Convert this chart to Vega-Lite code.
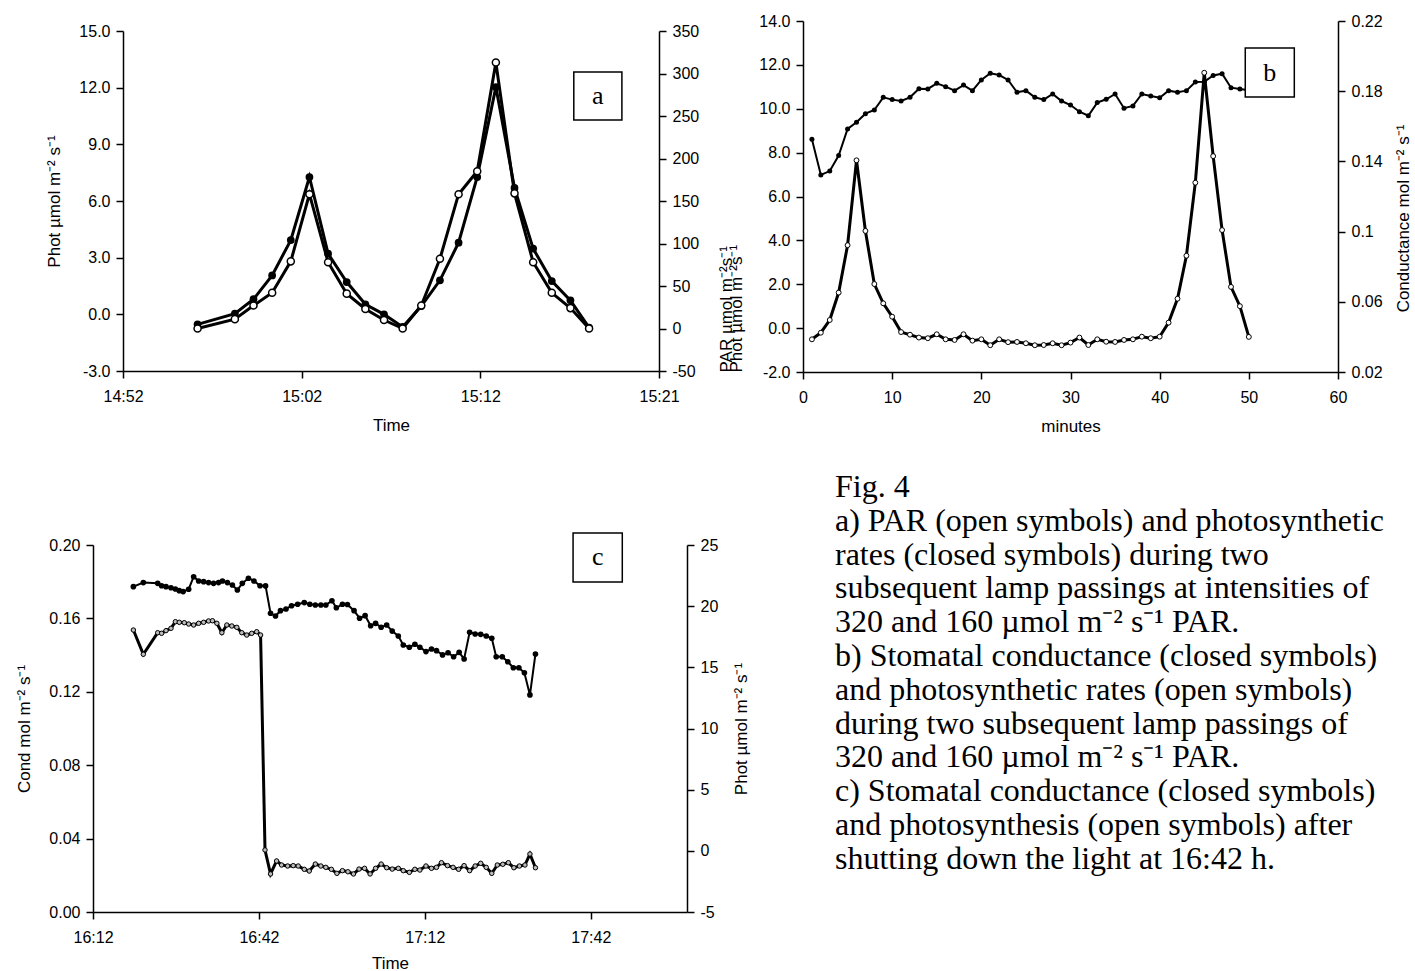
{
  "$schema": "https://vega.github.io/schema/vega-lite/v6.json",
  "padding": {"left": 15, "top": 13, "right": 4, "bottom": 0},
  "bounds": "flush",
  "columns": 2,
  "spacing": {"row": 173, "column": 116},
  "datasets": {
    "a": [
      {"t": 4, "phot": -0.53, "par": 0},
      {"t": 6, "phot": 0.04, "par": 11},
      {"t": 7, "phot": 0.8, "par": 27},
      {"t": 8, "phot": 2.06, "par": 42},
      {"t": 9, "phot": 3.93, "par": 79},
      {"t": 10, "phot": 7.27, "par": 158},
      {"t": 11, "phot": 3.21, "par": 78},
      {"t": 12, "phot": 1.71, "par": 41},
      {"t": 13, "phot": 0.53, "par": 23},
      {"t": 14, "phot": 0.0, "par": 10},
      {"t": 15, "phot": -0.67, "par": 0},
      {"t": 16, "phot": 0.44, "par": 27},
      {"t": 17, "phot": 1.8, "par": 82},
      {"t": 18, "phot": 3.79, "par": 158},
      {"t": 19, "phot": 7.27, "par": 185},
      {"t": 20, "phot": 12.03, "par": 313},
      {"t": 21, "phot": 6.69, "par": 159},
      {"t": 22, "phot": 3.48, "par": 78},
      {"t": 23, "phot": 1.76, "par": 42},
      {"t": 24, "phot": 0.74, "par": 24},
      {"t": 25, "phot": -0.7, "par": 0}
    ],
    "b": [
      {"m": 1, "phot": -0.51, "cond": 0.1526},
      {"m": 2, "phot": -0.21, "cond": 0.1323},
      {"m": 3, "phot": 0.37, "cond": 0.1345},
      {"m": 4, "phot": 1.62, "cond": 0.1433},
      {"m": 5, "phot": 3.78, "cond": 0.1585},
      {"m": 6, "phot": 7.65, "cond": 0.1623},
      {"m": 7, "phot": 4.43, "cond": 0.1672},
      {"m": 8, "phot": 2.01, "cond": 0.1693},
      {"m": 9, "phot": 1.13, "cond": 0.1765},
      {"m": 10, "phot": 0.52, "cond": 0.1752},
      {"m": 11, "phot": -0.18, "cond": 0.1744},
      {"m": 12, "phot": -0.3, "cond": 0.1765},
      {"m": 13, "phot": -0.43, "cond": 0.1814},
      {"m": 14, "phot": -0.46, "cond": 0.1813},
      {"m": 15, "phot": -0.28, "cond": 0.1845},
      {"m": 16, "phot": -0.51, "cond": 0.1826},
      {"m": 17, "phot": -0.54, "cond": 0.1803},
      {"m": 18, "phot": -0.28, "cond": 0.1835},
      {"m": 19, "phot": -0.57, "cond": 0.1803},
      {"m": 20, "phot": -0.51, "cond": 0.1864},
      {"m": 21, "phot": -0.78, "cond": 0.1902},
      {"m": 22, "phot": -0.51, "cond": 0.1892},
      {"m": 23, "phot": -0.64, "cond": 0.1864},
      {"m": 24, "phot": -0.63, "cond": 0.1794},
      {"m": 25, "phot": -0.69, "cond": 0.1803},
      {"m": 26, "phot": -0.78, "cond": 0.1765},
      {"m": 27, "phot": -0.77, "cond": 0.1752},
      {"m": 28, "phot": -0.69, "cond": 0.1784},
      {"m": 29, "phot": -0.78, "cond": 0.1744},
      {"m": 30, "phot": -0.66, "cond": 0.1721},
      {"m": 31, "phot": -0.43, "cond": 0.1683},
      {"m": 32, "phot": -0.77, "cond": 0.166},
      {"m": 33, "phot": -0.51, "cond": 0.1735},
      {"m": 34, "phot": -0.62, "cond": 0.1754},
      {"m": 35, "phot": -0.63, "cond": 0.1784},
      {"m": 36, "phot": -0.54, "cond": 0.1703},
      {"m": 37, "phot": -0.51, "cond": 0.1716},
      {"m": 38, "phot": -0.39, "cond": 0.1784},
      {"m": 39, "phot": -0.46, "cond": 0.1773},
      {"m": 40, "phot": -0.39, "cond": 0.1763},
      {"m": 41, "phot": 0.25, "cond": 0.1803},
      {"m": 42, "phot": 1.34, "cond": 0.1794},
      {"m": 43, "phot": 3.3, "cond": 0.1803},
      {"m": 44, "phot": 6.63, "cond": 0.1852},
      {"m": 45, "phot": 11.64, "cond": 0.1854},
      {"m": 46, "phot": 7.84, "cond": 0.189},
      {"m": 47, "phot": 4.47, "cond": 0.19},
      {"m": 48, "phot": 1.88, "cond": 0.182},
      {"m": 49, "phot": 1.0, "cond": 0.1813},
      {"m": 50, "phot": -0.4, "cond": 0.1805}
    ],
    "c_cond": [
      {"t": 7.3, "cond": 0.1773}, {"t": 9.1, "cond": 0.1795}, {"t": 11.7, "cond": 0.1791}, {"t": 12.4, "cond": 0.1778},
      {"t": 13.2, "cond": 0.1773}, {"t": 14.1, "cond": 0.1767}, {"t": 14.9, "cond": 0.176}, {"t": 15.6, "cond": 0.1751},
      {"t": 16.3, "cond": 0.1746}, {"t": 17.3, "cond": 0.1759}, {"t": 18.2, "cond": 0.1827}, {"t": 19.1, "cond": 0.1804},
      {"t": 20.0, "cond": 0.18}, {"t": 20.9, "cond": 0.1795}, {"t": 21.8, "cond": 0.1791}, {"t": 22.7, "cond": 0.1795},
      {"t": 23.4, "cond": 0.1804}, {"t": 24.3, "cond": 0.1795}, {"t": 25.2, "cond": 0.1782}, {"t": 26.1, "cond": 0.1755},
      {"t": 27.0, "cond": 0.1791}, {"t": 28.1, "cond": 0.1819}, {"t": 29.1, "cond": 0.1804}, {"t": 30.2, "cond": 0.1778},
      {"t": 31.2, "cond": 0.1777}, {"t": 32.1, "cond": 0.1628}, {"t": 33.0, "cond": 0.1613}, {"t": 33.9, "cond": 0.1642},
      {"t": 34.9, "cond": 0.1651}, {"t": 35.9, "cond": 0.1669}, {"t": 37.0, "cond": 0.1677}, {"t": 38.2, "cond": 0.1686},
      {"t": 39.2, "cond": 0.1677}, {"t": 40.2, "cond": 0.1673}, {"t": 41.2, "cond": 0.1673}, {"t": 42.1, "cond": 0.1673},
      {"t": 43.2, "cond": 0.1696}, {"t": 44.0, "cond": 0.1658}, {"t": 45.1, "cond": 0.1677}, {"t": 46.0, "cond": 0.1676},
      {"t": 47.2, "cond": 0.1642}, {"t": 48.2, "cond": 0.1601}, {"t": 49.2, "cond": 0.1615}, {"t": 50.2, "cond": 0.156},
      {"t": 51.1, "cond": 0.1573}, {"t": 52.1, "cond": 0.1552}, {"t": 53.1, "cond": 0.1564}, {"t": 54.1, "cond": 0.1531},
      {"t": 55.2, "cond": 0.1504}, {"t": 56.1, "cond": 0.1455}, {"t": 57.2, "cond": 0.1443}, {"t": 58.2, "cond": 0.1459},
      {"t": 59.1, "cond": 0.1443}, {"t": 60.2, "cond": 0.1419}, {"t": 61.2, "cond": 0.1433}, {"t": 62.1, "cond": 0.1424},
      {"t": 63.2, "cond": 0.1401}, {"t": 64.2, "cond": 0.1413}, {"t": 65.2, "cond": 0.1391}, {"t": 66.2, "cond": 0.1415},
      {"t": 67.1, "cond": 0.1379}, {"t": 68.1, "cond": 0.1524}, {"t": 69.1, "cond": 0.1515}, {"t": 70.1, "cond": 0.1513},
      {"t": 71.1, "cond": 0.1504}, {"t": 72.1, "cond": 0.1492}, {"t": 72.9, "cond": 0.1391}, {"t": 74.0, "cond": 0.1391},
      {"t": 75.0, "cond": 0.1364}, {"t": 76.0, "cond": 0.1331}, {"t": 77.0, "cond": 0.1331}, {"t": 78.0, "cond": 0.1304},
      {"t": 79.0, "cond": 0.1183}, {"t": 80.0, "cond": 0.1406}
    ],
    "c_phot": [
      {"t": 7.3, "phot": 18.05}, {"t": 9.1, "phot": 16.07}, {"t": 11.7, "phot": 17.83}, {"t": 12.4, "phot": 17.78},
      {"t": 13.2, "phot": 18.0}, {"t": 14.1, "phot": 18.19}, {"t": 14.9, "phot": 18.73}, {"t": 15.6, "phot": 18.68},
      {"t": 16.5, "phot": 18.65}, {"t": 17.3, "phot": 18.54}, {"t": 18.2, "phot": 18.46}, {"t": 19.1, "phot": 18.6},
      {"t": 20.0, "phot": 18.68}, {"t": 20.9, "phot": 18.79}, {"t": 21.6, "phot": 18.81}, {"t": 22.4, "phot": 18.6},
      {"t": 23.3, "phot": 17.83}, {"t": 24.2, "phot": 18.46}, {"t": 25.1, "phot": 18.38}, {"t": 26.0, "phot": 18.27},
      {"t": 26.9, "phot": 17.83}, {"t": 27.8, "phot": 17.64}, {"t": 28.7, "phot": 17.78}, {"t": 29.6, "phot": 17.91},
      {"t": 30.3, "phot": 17.64}, {"t": 31.1, "phot": 0.07}, {"t": 32.1, "phot": -1.89}, {"t": 33.2, "phot": -0.83},
      {"t": 34.1, "phot": -1.16}, {"t": 35.2, "phot": -1.24}, {"t": 36.2, "phot": -1.21}, {"t": 37.1, "phot": -1.24},
      {"t": 38.2, "phot": -1.51}, {"t": 39.1, "phot": -1.65}, {"t": 40.2, "phot": -1.08}, {"t": 41.2, "phot": -1.24},
      {"t": 42.1, "phot": -1.35}, {"t": 43.1, "phot": -1.51}, {"t": 44.1, "phot": -1.84}, {"t": 45.1, "phot": -1.62},
      {"t": 46.1, "phot": -1.71}, {"t": 47.1, "phot": -1.89}, {"t": 48.1, "phot": -1.49}, {"t": 49.1, "phot": -1.43},
      {"t": 50.1, "phot": -1.89}, {"t": 51.1, "phot": -1.43}, {"t": 52.1, "phot": -1.08}, {"t": 53.1, "phot": -1.38},
      {"t": 54.1, "phot": -1.49}, {"t": 55.2, "phot": -1.43}, {"t": 56.1, "phot": -1.62}, {"t": 57.2, "phot": -1.76},
      {"t": 58.2, "phot": -1.51}, {"t": 59.1, "phot": -1.57}, {"t": 60.2, "phot": -1.24}, {"t": 61.2, "phot": -1.43},
      {"t": 62.1, "phot": -1.35}, {"t": 63.0, "phot": -0.97}, {"t": 64.1, "phot": -1.21}, {"t": 65.1, "phot": -1.35},
      {"t": 66.1, "phot": -1.51}, {"t": 67.1, "phot": -1.21}, {"t": 68.1, "phot": -1.62}, {"t": 69.1, "phot": -1.24},
      {"t": 70.1, "phot": -1.02}, {"t": 71.1, "phot": -1.35}, {"t": 72.1, "phot": -1.84}, {"t": 73.1, "phot": -1.16},
      {"t": 74.1, "phot": -1.1}, {"t": 75.1, "phot": -0.97}, {"t": 76.1, "phot": -1.38}, {"t": 77.1, "phot": -1.24},
      {"t": 78.1, "phot": -1.16}, {"t": 79.0, "phot": -0.26}, {"t": 80.0, "phot": -1.38}
    ],
    "caption": [
      {"line": 0, "text": "Fig. 4"},
      {"line": 1, "text": "a) PAR (open symbols) and photosynthetic"},
      {"line": 2, "text": "rates (closed symbols) during two"},
      {"line": 3, "text": "subsequent lamp passings at intensities of"},
      {"line": 4, "text": "320 and 160 µmol m⁻² s⁻¹ PAR."},
      {"line": 5, "text": "b) Stomatal conductance (closed symbols)"},
      {"line": 6, "text": "and photosynthetic rates (open symbols)"},
      {"line": 7, "text": "during two subsequent lamp passings of"},
      {"line": 8, "text": "320 and 160 µmol m⁻² s⁻¹ PAR."},
      {"line": 9, "text": "c) Stomatal conductance (closed symbols)"},
      {"line": 10, "text": "and photosynthesis (open symbols) after"},
      {"line": 11, "text": "shutting down the light at 16:42 h."}
    ],
    "boxA": [{"label": "a"}],
    "boxB": [{"label": "b"}],
    "boxC": [{"label": "c"}]
  },
  "concat": [
    {
      "width": 566,
      "height": 350,
      "layer": [
        {
          "data": {"name": "a"},
          "encoding": {
            "x": {"field": "t", "type": "quantitative",
              "scale": {"domain": [0, 28.75], "range": [30, 566], "nice": false, "zero": false},
              "axis": {"values": [0, 9.5833, 19.1667, 28.75], "labelExpr": "['14:52','15:02','15:12','15:21'][round(datum.value/9.5833)]", "title": "Time", "labelPadding": 10, "titlePadding": 13}},
            "y": {"field": "phot", "type": "quantitative",
              "scale": {"domain": [-3, 15], "range": [350, 10], "nice": false, "zero": false},
              "axis": {"values": [-3, 0, 3, 6, 9, 12, 15], "format": ".1f", "labelExpr": "replace(datum.label, '−', '-')", "title": "Phot µmol m⁻² s⁻¹", "offset": -30, "titlePadding": 15}}
          },
          "layer": [
            {"mark": {"type": "line", "color": "black", "strokeWidth": 3}},
            {"mark": {"type": "point", "filled": true, "color": "black", "size": 60, "opacity": 1}}
          ]
        },
        {
          "data": {"name": "a"},
          "encoding": {
            "x": {"field": "t", "type": "quantitative"},
            "y": {"field": "par", "type": "quantitative",
              "scale": {"domain": [-50, 350], "range": [350, 10], "nice": false, "zero": false},
              "axis": {"values": [-50, 0, 50, 100, 150, 200, 250, 300, 350], "format": "d", "labelExpr": "replace(datum.label, '−', '-')", "title": null}}
          },
          "layer": [
            {"mark": {"type": "line", "color": "black", "strokeWidth": 3}},
            {"mark": {"type": "point", "filled": true, "fill": "white", "stroke": "black", "strokeWidth": 1.5, "size": 50, "opacity": 1}}
          ]
        },
        {
          "data": {"name": "boxA"},
          "layer": [
            {"mark": {"type": "rect", "fill": "white", "stroke": "black", "strokeWidth": 1.5},
              "encoding": {
                "x": {"datum": 24.18, "type": "quantitative"},
                "x2": {"datum": 26.76},
                "y": {"datum": 12.83, "type": "quantitative", "scale": {"domain": [-3, 15], "range": [350, 10], "nice": false, "zero": false}, "axis": null},
                "y2": {"datum": 10.29}}},
            {"mark": {"type": "text", "font": "Liberation Serif", "fontSize": 26, "color": "black", "baseline": "middle", "align": "center"},
              "encoding": {
                "x": {"datum": 25.47, "type": "quantitative"},
                "y": {"datum": 11.56, "type": "quantitative"},
                "text": {"field": "label"}}}
          ]
        }
      ],
      "resolve": {"scale": {"y": "independent"}}
    },
    {
      "width": 535,
      "height": 351,
      "layer": [
        {
          "data": {"name": "b"},
          "encoding": {
            "x": {"field": "m", "type": "quantitative",
              "scale": {"domain": [0, 60], "nice": false, "zero": false},
              "axis": {"values": [0, 10, 20, 30, 40, 50, 60], "title": "minutes", "labelPadding": 10, "titlePadding": 13}},
            "y": {"field": "phot", "type": "quantitative",
              "scale": {"domain": [-2, 14], "nice": false, "zero": false},
              "axis": {"values": [-2, 0, 2, 4, 6, 8, 10, 12, 14], "format": ".1f", "labelExpr": "replace(datum.label, '−', '-')", "title": ["PAR µmol m⁻²s⁻¹", "Phot µmol m⁻²s⁻¹"], "titleLineHeight": 10, "titleAnchor": "start", "titlePadding": 13}}
          },
          "layer": [
            {"mark": {"type": "line", "color": "black", "strokeWidth": 3}},
            {"mark": {"type": "point", "filled": true, "fill": "white", "stroke": "black", "strokeWidth": 1, "size": 24, "opacity": 1}}
          ]
        },
        {
          "data": {"name": "b"},
          "encoding": {
            "x": {"field": "m", "type": "quantitative"},
            "y": {"field": "cond", "type": "quantitative",
              "scale": {"domain": [0.02, 0.22], "nice": false, "zero": false},
              "axis": {"values": [0.02, 0.06, 0.1, 0.14, 0.18, 0.22], "format": "~g", "title": "Conductance mol m⁻² s⁻¹", "titlePadding": 13, "titleAngle": 270, "titleBaseline": "top", "titleY": 197}}
          },
          "layer": [
            {"mark": {"type": "line", "color": "black", "strokeWidth": 2}},
            {"mark": {"type": "point", "filled": true, "color": "black", "size": 25, "opacity": 1}}
          ]
        },
        {
          "data": {"name": "boxB"},
          "layer": [
            {"mark": {"type": "rect", "fill": "white", "stroke": "black", "strokeWidth": 1.5},
              "encoding": {
                "x": {"datum": 49.6, "type": "quantitative"},
                "x2": {"datum": 55.1},
                "y": {"datum": 0.2046, "type": "quantitative", "scale": {"domain": [0.02, 0.22], "nice": false, "zero": false}, "axis": null},
                "y2": {"datum": 0.1767}}},
            {"mark": {"type": "text", "font": "Liberation Serif", "fontSize": 26, "color": "black", "baseline": "middle", "align": "center"},
              "encoding": {
                "x": {"datum": 52.35, "type": "quantitative"},
                "y": {"datum": 0.1906, "type": "quantitative"},
                "text": {"field": "label"}}}
          ]
        }
      ],
      "resolve": {"scale": {"y": "independent"}}
    },
    {
      "width": 594,
      "height": 367,
      "layer": [
        {
          "data": {"name": "c_cond"},
          "encoding": {
            "x": {"field": "t", "type": "quantitative",
              "scale": {"domain": [0, 107.4], "nice": false, "zero": false},
              "axis": {"values": [0, 30, 60, 90], "labelExpr": "['16:12','16:42','17:12','17:42'][round(datum.value/30)]", "title": "Time", "labelPadding": 10, "titlePadding": 10}},
            "y": {"field": "cond", "type": "quantitative",
              "scale": {"domain": [0, 0.2], "nice": false, "zero": false},
              "axis": {"values": [0, 0.04, 0.08, 0.12, 0.16, 0.2], "format": ".2f", "title": "Cond mol m⁻² s⁻¹", "titlePadding": 15}}
          },
          "layer": [
            {"mark": {"type": "line", "color": "black", "strokeWidth": 2}},
            {"mark": {"type": "point", "filled": true, "color": "black", "size": 32, "opacity": 1}}
          ]
        },
        {
          "data": {"name": "c_phot"},
          "encoding": {
            "x": {"field": "t", "type": "quantitative"},
            "y": {"field": "phot", "type": "quantitative",
              "scale": {"domain": [-5, 25], "nice": false, "zero": false},
              "axis": {"values": [-5, 0, 5, 10, 15, 20, 25], "format": "d", "labelExpr": "replace(datum.label, '−', '-')", "title": "Phot µmol m⁻² s⁻¹", "titlePadding": 16, "titleAngle": 270, "titleBaseline": "top"}}
          },
          "layer": [
            {"mark": {"type": "line", "color": "black", "strokeWidth": 3}},
            {"mark": {"type": "point", "filled": true, "fill": "#bbbbbb", "stroke": "black", "strokeWidth": 1, "size": 20, "opacity": 1}}
          ]
        },
        {
          "data": {"name": "boxC"},
          "layer": [
            {"mark": {"type": "rect", "fill": "white", "stroke": "black", "strokeWidth": 1.5},
              "encoding": {
                "x": {"datum": 86.8, "type": "quantitative"},
                "x2": {"datum": 95.7},
                "y": {"datum": 0.2065, "type": "quantitative", "scale": {"domain": [0, 0.2], "nice": false, "zero": false}, "axis": null},
                "y2": {"datum": 0.1798}}},
            {"mark": {"type": "text", "font": "Liberation Serif", "fontSize": 26, "color": "black", "baseline": "middle", "align": "center"},
              "encoding": {
                "x": {"datum": 91.25, "type": "quantitative"},
                "y": {"datum": 0.1932, "type": "quantitative"},
                "text": {"field": "label"}}}
          ]
        }
      ],
      "resolve": {"scale": {"y": "independent"}}
    },
    {
      "width": 64,
      "height": 367,
      "data": {"name": "caption"},
      "mark": {"type": "text", "font": "Liberation Serif", "fontSize": 32, "color": "black", "align": "left", "baseline": "alphabetic"},
      "encoding": {
        "y": {"field": "line", "type": "quantitative", "scale": {"domain": [1.42, 12.278], "reverse": true, "nice": false, "zero": false}, "axis": null},
        "text": {"field": "text"}
      }
    }
  ],
  "config": {
    "view": {"stroke": null},
    "axis": {
      "domainColor": "black", "domainWidth": 1.5, "tickColor": "black", "tickWidth": 1.5, "tickSize": 7,
      "labelFont": "Liberation Sans", "labelFontSize": 16, "labelColor": "black", "labelPadding": 6,
      "titleFont": "Liberation Sans", "titleFontSize": 17, "titleFontWeight": "normal", "titleColor": "black",
      "grid": false, "labelFlush": false, "labelOverlap": false
    }
  }
}
